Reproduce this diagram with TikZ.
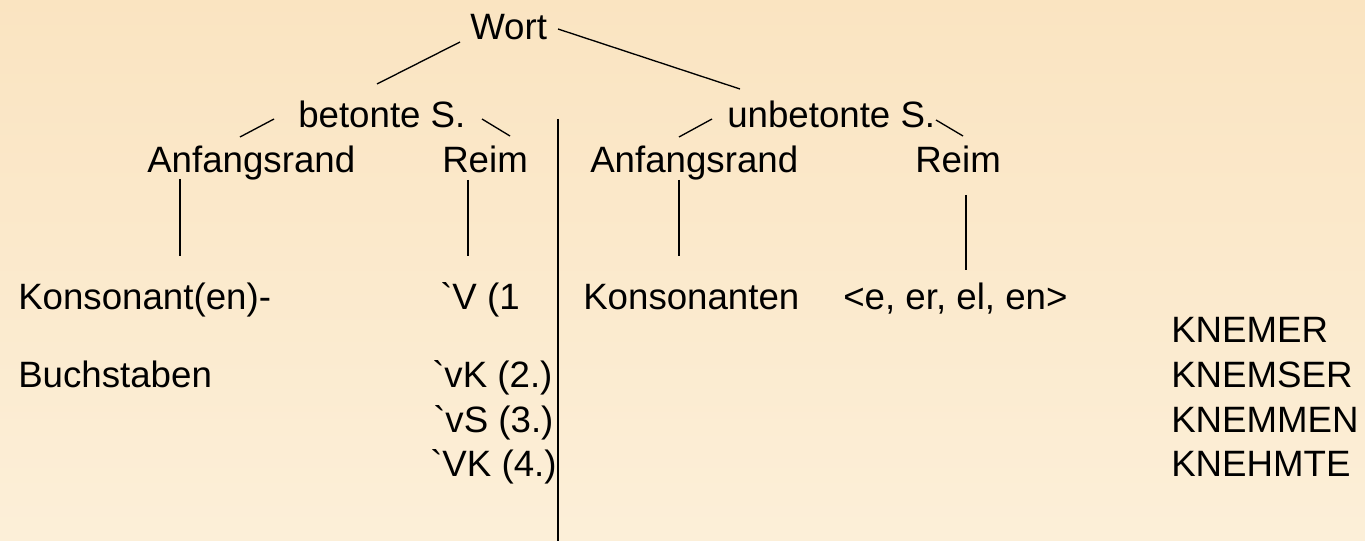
\documentclass[tikz,border=0pt]{standalone}
\usepackage{fontspec}
\setmainfont{Liberation Sans}[Ligatures=TeXOff]
\definecolor{bgtop}{HTML}{FAE4C1}
\definecolor{bgbot}{HTML}{FCEFD8}
\begin{document}
\begin{tikzpicture}[x=0.75pt,y=-0.75pt,
  txt/.style={anchor=base west, inner sep=0pt, font=\fontsize{27.5pt}{32pt}\selectfont},
  ln/.style={line width=1pt, black},
  sepline/.style={line width=1.5pt, black}]
\shade[top color=bgtop, bottom color=bgbot] (0,0) rectangle (1365,541);
\useasboundingbox (0,0) rectangle (1365,541);
% nodes
\node[txt] (wort) at (470,40) {Wort};
\node[txt] (bet) at (298,128) {betonte S.};
\node[txt] (unbet) at (727,128) {unbetonte S.};
\node[txt] (anf1) at (147,173) {Anfangsrand};
\node[txt] (reim1) at (442,173) {Reim};
\node[txt] (anf2) at (590,173) {Anfangsrand};
\node[txt] (reim2) at (915,173) {Reim};
\node[txt] (kons1) at (18,310) {Konsonant(en)-};
\node[txt] (buch) at (18,388) {Buchstaben};
\node[txt] (v1) at (440,310) {\symbol{96}V (1};
\node[txt] (vk2) at (432,388) {\symbol{96}vK (2.)};
\node[txt] (vs3) at (433,433) {\symbol{96}vS (3.)};
\node[txt] (vk4) at (430,477) {\symbol{96}VK (4.)};
\node[txt] (kons2) at (583,310) {Konsonanten};
\node[txt] (endg) at (843,310) {\textless e, er, el, en\textgreater};
\node[txt] (knemer) at (1171,343) {KNEMER};
\node[txt] (knemser) at (1171,388) {KNEMSER};
\node[txt] (knemmen) at (1171,433) {KNEMMEN};
\node[txt] (knehmte) at (1171,477) {KNEHMTE};
% connector end points
\coordinate (wA) at (460,42);  \coordinate (bA) at (377,84);
\coordinate (wB) at (558,29);  \coordinate (uA) at (740,89);
\coordinate (bL) at (274,119); \coordinate (a1T) at (240,137);
\coordinate (bR) at (482,119); \coordinate (r1T) at (510,136);
\coordinate (uL) at (712,119); \coordinate (a2T) at (679,137);
\coordinate (uR) at (936,120); \coordinate (r2T) at (963,136);
\coordinate (a1B) at (180,179); \coordinate (k1T) at (180,256);
\coordinate (r1B) at (468,180); \coordinate (v1T) at (468,256);
\coordinate (a2B) at (679,180); \coordinate (k2T) at (679,256);
\coordinate (r2B) at (966,195); \coordinate (eT) at (966,270);
\coordinate (sepT) at (558,119); \coordinate (sepB) at (558,541);
% connectors
\draw[ln] (wA) -- (bA);
\draw[ln] (wB) -- (uA);
\draw[ln] (bL) -- (a1T);
\draw[ln] (bR) -- (r1T);
\draw[ln] (uL) -- (a2T);
\draw[ln] (uR) -- (r2T);
\draw[ln] (a1B) -- (k1T);
\draw[ln] (r1B) -- (v1T);
\draw[ln] (a2B) -- (k2T);
\draw[ln] (r2B) -- (eT);
\draw[sepline] (sepT) -- (sepB);
\end{tikzpicture}
\end{document}
